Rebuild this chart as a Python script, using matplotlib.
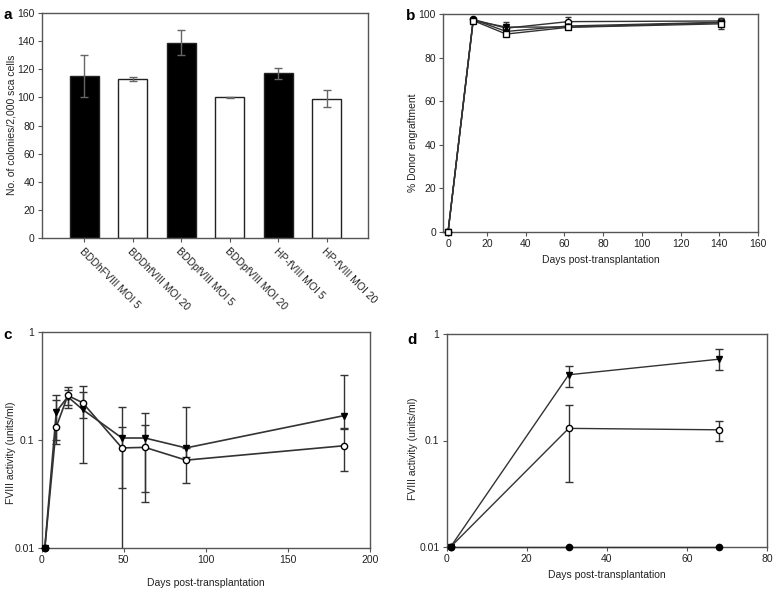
import numpy as np
import matplotlib
matplotlib.use("Agg")
import matplotlib.pyplot as plt
from matplotlib.ticker import FixedLocator, FixedFormatter, NullLocator

plt.rcParams['font.family'] = ['Liberation Sans', 'DejaVu Sans']

# ---------------- data ----------------
bar_labels = ["BDDhFVIII MOI 5", "BDDhfVIII MOI 20", "BDDpfVIII MOI 5",
              "BDDpfVIII MOI 20", "HP-fVIII MOI 5", "HP-fVIII MOI 20"]
bar_values = [115, 113, 139, 100, 117, 99]
bar_errors = [15, 1.2, 9, 0.5, 4, 6]

b_days = [0, 13, 30, 62, 141]
b_s1 = [0, 97.5, 93.5, 96.5, 96.8]
b_s1_err = [0, 0.5, 1.5, 2.0, 1.0]
b_s2 = [0, 97.0, 94.0, 94.0, 96.0]
b_s2_err = [0, 0.5, 2.5, 1.0, 1.0]
b_s3 = [0, 97.0, 90.8, 93.9, 95.5]
b_s3_err = [0, 0.5, 1.0, 1.0, 2.5]
b_s4 = [0, 97.5, 92.0, 94.5, 96.2]
b_s4_err = [0, 0.5, 1.0, 1.0, 1.0]

c_days = [2, 9, 16, 25, 49, 63, 88, 184]
c_tri = [0.01, 0.184, 0.253, 0.193, 0.105, 0.105, 0.085, 0.169]
c_tri_hi = [0.01, 0.263, 0.31, 0.28, 0.205, 0.18, 0.202, 0.40]
c_tri_lo = [0.01, 0.092, 0.20, 0.062, 0.036, 0.033, 0.07, 0.13]
c_circ = [0.01, 0.133, 0.26, 0.223, 0.085, 0.086, 0.0655, 0.089]
c_circ_hi = [0.01, 0.236, 0.29, 0.32, 0.133, 0.138, 0.085, 0.126]
c_circ_lo = [0.01, 0.10, 0.213, 0.16, 0.001, 0.027, 0.04, 0.052]

d_days = [1, 30.5, 68]
d_tri = [0.01, 0.414, 0.58]
d_tri_hi = [0.01, 0.496, 0.72]
d_tri_lo = [0.01, 0.32, 0.46]
d_circ = [0.01, 0.13, 0.126]
d_circ_hi = [0.01, 0.214, 0.152]
d_circ_lo = [0.01, 0.041, 0.098]
d_ctrl = [0.01, 0.01, 0.01]

# ---------------- figure ----------------
W, H = 777, 593
fig = plt.figure(figsize=(W / 100, H / 100), dpi=100)

def px_axes(l, t, r, b):
    ax = fig.add_axes([l / W, 1 - b / H, (r - l) / W, (b - t) / H])
    ax._px = (l, t, r, b)
    return ax

spine_col = '#555555'
txt_col = '#222222'
line_col = '#333333'
TICK_FS = 7.5
LAB_FS = 7.5

def style(ax):
    for s in ax.spines.values():
        s.set_color(spine_col)
        s.set_linewidth(1.0)
    ax.tick_params(direction='out', length=3, width=0.8, colors=spine_col,
                   labelcolor=txt_col, labelsize=TICK_FS, pad=2)

def ylabel_at(ax, text, xpx, ypx):
    # xpx: right edge of the rotated label, ypx: its centre (figure pixels)
    l, t, r, b = ax._px
    ax.set_ylabel(text, fontsize=LAB_FS, color=txt_col)
    ax.yaxis.set_label_coords((xpx - l) / (r - l), (b - ypx) / (b - t))

def xlabel_at(ax, text, ypx):
    l, t, r, b = ax._px
    ax.set_xlabel(text, fontsize=LAB_FS, color=txt_col)
    ax.xaxis.set_label_coords(0.5, (b - ypx) / (b - t))

# ---- panel a ----
axa = px_axes(41.7, 13, 368, 238)
style(axa)
x = np.arange(len(bar_values))
cols = ['black' if i % 2 == 0 else 'white' for i in x]
axa.bar(x, bar_values, width=0.6, color=cols, edgecolor='#222222', linewidth=1.0)
axa.errorbar(x, bar_values, yerr=bar_errors, fmt='none', ecolor='#666666',
             elinewidth=1.0, capsize=3, capthick=1.0)
axa.set_xlim(-0.88, 5.85)
axa.set_ylim(0, 160)
axa.set_yticks(np.arange(0, 161, 20))
axa.set_xticks(x)
axa.set_xticklabels(bar_labels, rotation=-45, ha='left', va='top',
                    rotation_mode='anchor', fontsize=7.5)
axa.tick_params(axis='x', pad=3)
ylabel_at(axa, "No. of colonies/2,000 sca cells", 16, 125)
fig.text(3 / W, 1 - 19 / H, 'a', fontsize=11, fontweight='bold')

# ---- panel b ----
axb = px_axes(443, 14, 758, 232)
style(axb)
ms = 4.5
axb.errorbar(b_days, b_s1, yerr=b_s1_err, color=line_col, lw=1.0, marker='o',
             mfc='white', mec='black', ms=ms, capsize=2, clip_on=False, zorder=3)
axb.errorbar(b_days, b_s2, yerr=b_s2_err, color=line_col, lw=1.0, marker='v',
             mfc='black', mec='black', ms=ms, capsize=2, clip_on=False, zorder=3)
axb.errorbar(b_days, b_s4, yerr=b_s4_err, color=line_col, lw=1.0, marker='o',
             mfc='black', mec='black', ms=ms - 1, capsize=2, clip_on=False, zorder=3)
axb.errorbar(b_days, b_s3, yerr=b_s3_err, color=line_col, lw=1.0, marker='s',
             mfc='white', mec='black', ms=ms, capsize=2, clip_on=False, zorder=4)
axb.set_xlim(-2.6, 160)
axb.set_ylim(0, 100)
axb.set_xticks(np.arange(0, 161, 20))
axb.set_yticks(np.arange(0, 101, 20))
xlabel_at(axb, "Days post-transplantation", 255)
ylabel_at(axb, "% Donor engraftment", 418, 143)
fig.text(406 / W, 1 - 20 / H, 'b', fontsize=11, fontweight='bold')

def log_style(ax):
    ax.set_yscale('log')
    ax.set_ylim(0.01, 1)
    ax.yaxis.set_major_locator(FixedLocator([0.01, 0.1, 1]))
    ax.yaxis.set_major_formatter(FixedFormatter(['0.01', '0.1', '1']))
    ax.yaxis.set_minor_locator(NullLocator())

def asym(v, lo, hi):
    v = np.array(v); lo = np.array(lo); hi = np.array(hi)
    return [v - lo, hi - v]

# ---- panel c ----
axc = px_axes(41.5, 332.3, 370, 548.3)
style(axc)
log_style(axc)
axc.errorbar(c_days, c_tri, yerr=asym(c_tri, c_tri_lo, c_tri_hi), fmt='none',
             ecolor=line_col, elinewidth=1.0, capsize=3, capthick=1.0)
axc.errorbar(c_days, c_circ, yerr=asym(c_circ, c_circ_lo, c_circ_hi), fmt='none',
             ecolor=line_col, elinewidth=1.0, capsize=3, capthick=1.0)
axc.plot(c_days, c_tri, color=line_col, lw=1.2, marker='v', mfc='black',
         mec='black', ms=5, clip_on=False, zorder=3)
axc.plot(c_days, c_circ, color=line_col, lw=1.2, marker='o', mfc='white',
         mec='black', ms=4.5, clip_on=False, zorder=3)
axc.plot(c_days[:1], c_circ[:1], ls='none', marker='o', mfc='black', mec='black',
         ms=4.5, clip_on=False, zorder=4)
axc.set_xlim(0, 200)
axc.set_xticks([0, 50, 100, 150, 200])
xlabel_at(axc, "Days post-transplantation", 578)
ylabel_at(axc, "FVIII activity (units/ml)", 16, 453)
fig.text(3 / W, 1 - 339 / H, 'c', fontsize=11, fontweight='bold')

# ---- panel d ----
axd = px_axes(446.5, 334, 767, 547)
style(axd)
log_style(axd)
axd.errorbar(d_days, d_tri, yerr=asym(d_tri, d_tri_lo, d_tri_hi), fmt='none',
             ecolor=line_col, elinewidth=1.0, capsize=3, capthick=1.0)
axd.errorbar(d_days, d_circ, yerr=asym(d_circ, d_circ_lo, d_circ_hi), fmt='none',
             ecolor=line_col, elinewidth=1.0, capsize=3, capthick=1.0)
axd.plot(d_days, d_tri, color=line_col, lw=1.0, marker='v', mfc='black',
         mec='black', ms=5, clip_on=False, zorder=3)
axd.plot(d_days, d_circ, color=line_col, lw=1.0, marker='o', mfc='white',
         mec='black', ms=4.5, clip_on=False, zorder=3)
axd.plot(d_days, d_ctrl, color=line_col, lw=1.0, marker='o', mfc='black',
         mec='black', ms=4.5, clip_on=False, zorder=4)
axd.set_xlim(0, 80)
axd.set_xticks([0, 20, 40, 60, 80])
xlabel_at(axd, "Days post-transplantation", 570)
ylabel_at(axd, "FVIII activity (units/ml)", 418, 449)
fig.text(407 / W, 1 - 344 / H, 'd', fontsize=11, fontweight='bold')

fig.savefig("out.png", dpi=100, facecolor='white')
